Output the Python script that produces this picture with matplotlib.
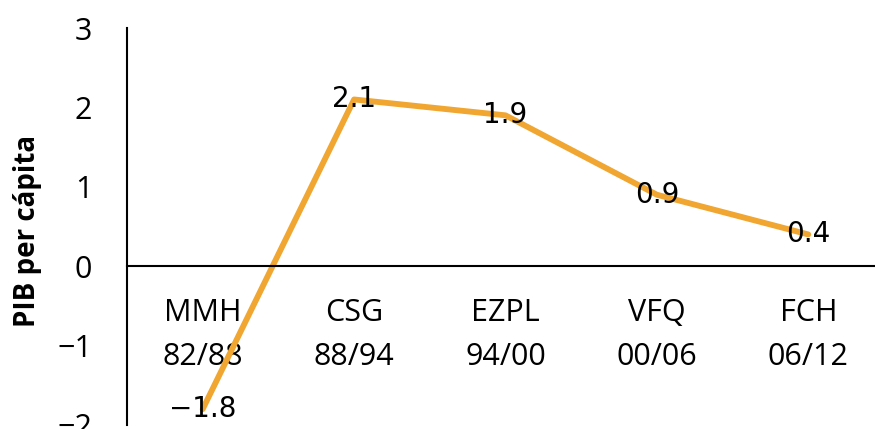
import matplotlib
matplotlib.use("Agg")
import matplotlib.pyplot as plt

categories = ["MMH\n82/88", "CSG\n88/94", "EZPL\n94/00", "VFQ\n00/06", "FCH\n06/12"]
values = [-1.8, 2.1, 1.9, 0.9, 0.4]
value_labels = ["\u22121.8", "2.1", "1.9", "0.9", "0.4"]
yticks = [-2, -1, 0, 1, 2, 3]
ytick_labels = ["\u22122", "\u22121", "0", "1", "2", "3"]

W, H = 875, 429
fig = plt.figure(figsize=(W / 100, H / 100), dpi=100)
left, right, top, bottom = 127, 884, 28, 425
ax = fig.add_axes([left / W, 1 - bottom / H, (right - left) / W, (bottom - top) / H])
ax.set_xlim(-0.5, 4.5)
ax.set_ylim(-2, 3)

x = list(range(len(categories)))
ax.plot(x, values, color="#F0A630", lw=4.2, solid_capstyle="round", zorder=2, clip_on=False)
for xi, v, lab in zip(x, values, value_labels):
    ax.text(xi, v, lab, ha="center", va="center", fontsize=20, family="DejaVu Sans",
            color="black", zorder=3)

for s in ["top", "right"]:
    ax.spines[s].set_visible(False)
ax.spines["bottom"].set_position(("data", 0))
ax.spines["bottom"].set_linewidth(1.5)
ax.spines["left"].set_linewidth(1.5)

ax.set_xticks(x)
ax.set_xticklabels(categories, fontsize=22, family="Open Sans", linespacing=1.62)
ax.tick_params(axis="x", length=0, pad=23)
ax.set_yticks(yticks)
ax.set_yticklabels(ytick_labels, fontsize=22, family="Open Sans")
ax.tick_params(axis="y", length=0, pad=25)
ax.set_ylabel("PIB per cápita", fontsize=20, family="Open Sans", fontweight="bold",
              va="center")
ax.yaxis.set_label_coords(-0.131, 0.49)

fig.savefig("out.png", dpi=100)
